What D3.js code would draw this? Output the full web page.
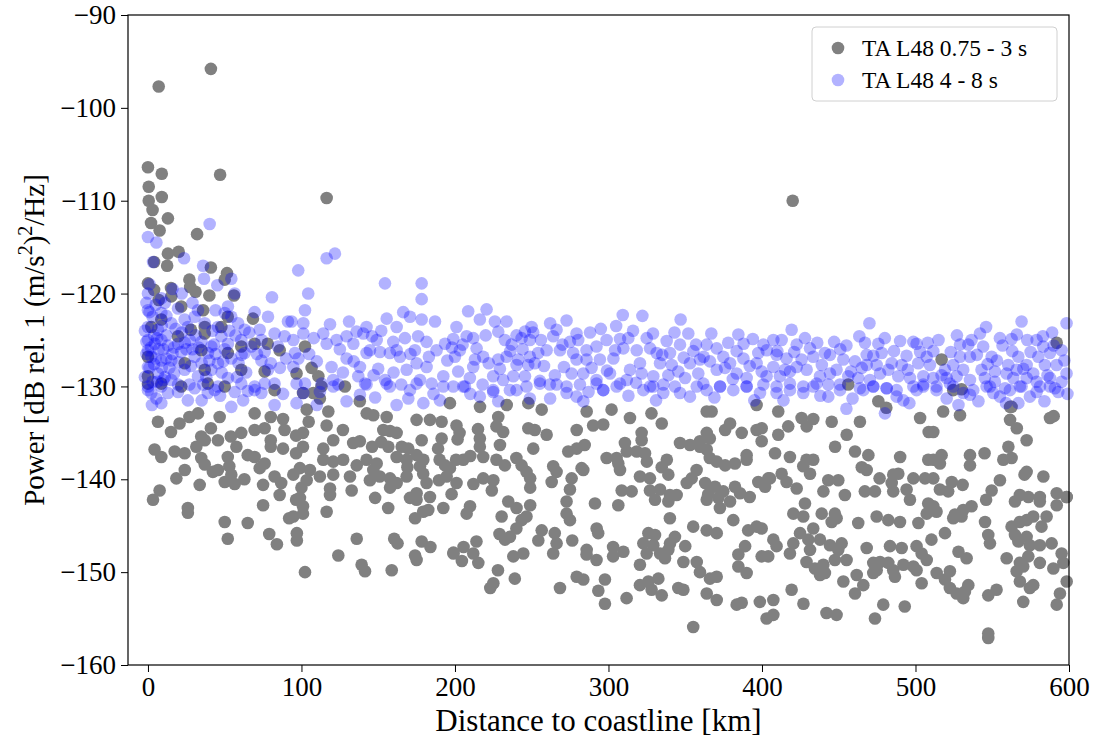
<!DOCTYPE html>
<html>
<head>
<meta charset="utf-8">
<script src="https://cdn.jsdelivr.net/npm/d3@7"></script>
<style>
  body { margin: 0; background: #fff; }
  svg { display: block; font-family: "Liberation Serif", "DejaVu Serif", serif; }
  .axis path, .axis line { stroke: #000; stroke-width: 1; }
  .axis text { font-family: "Liberation Serif", "DejaVu Serif", serif; font-size: 27px; fill: #000; }
</style>
</head>
<body>
<svg id="chart"></svg>
<script>
// Short period noise, TA L48 0.75 - 3 s  [distance km, power dB]
const shortPeriod = [
  [41,-95.8],[7,-97.7],[0,-106.4],[9,-107.1],[47,-107.2],[0.5,-108.5],[9,-109.6],[0.5,-110],[3,-111],[13,-111.9],
  [2,-112.4],[7.6,-113.2],[32,-113.6],[13,-115.7],[20,-115.5],[4,-116.6],[12.5,-117],[41,-117.2],[51.5,-117.8],[50,-118.5],
  [27,-118.5],[0,-118.9],[27.5,-119.3],[31,-119.8],[15,-119.4],[4,-119.6],[56,-120.2],[40,-120.2],[7,-120.7],[116.4,-109.7],[420,-110],
  [15.2,-120.3],[21.7,-121.4],[35.9,-121.8],[52,-122.5],[68.4,-122.7],[47.8,-123.6],[37,-123.6],[8.7,-122.8],[2.2,-123.6],[19.6,-124.6],
  [28,-123.9],[37,-124.3],[0,-126.8],[24,-127.5],[34.8,-126.1],[52,-126.4],[60.8,-125.7],[69.5,-125.4],[78,-125.4],[85.8,-126.1],
  [37,-128.2],[60.8,-128.2],[76,-128.4],[0,-128.9],[0,-129.7],[8.7,-129.7],[21.7,-130],[39,-129.7],[50,-130],[82.5,-130.4],
  [102.3,-125.7],[96.8,-128.6],[106.6,-128],[111,-128.9],[113,-130],
  // 0 - 95 km, below the blue band
  [6.5,-133.8],[20.6,-134],[15,-134.9],[27,-133.3],[32.6,-132.9],[46.7,-133.3],[41,-134.5],[34.7,-135.4],[37,-135.8],[45.6,-135.8],
  [54,-135.4],[60.8,-135],[69.5,-134.7],[76,-134.5],[80,-133.3],[88,-133.5],[69.5,-132.9],[4.3,-136.8],[8.7,-137.6],[17.4,-137],
  [23.9,-137.2],[31.5,-136.5],[34.7,-137.7],[37,-138.4],[42.3,-139.2],[45.6,-139],[52,-137.6],[53,-138.6],[54.3,-139.5],[57.6,-136.5],
  [50,-140.3],[56.5,-140.5],[62.8,-140],[65,-137.4],[69.5,-137.6],[72.8,-138.8],[76,-138.3],[82.5,-139.7],[86.8,-140.4],[85.8,-141.7],
  [75,-140.6],[80,-135.8],[80,-136.5],[88,-136.7],[18.5,-139.9],[24,-139],[33.7,-140.6],[7.6,-141.2],[3.3,-142.2],[26,-143.1],
  [26,-143.6],[50,-144.6],[52,-146.4],[65,-144.7],[75,-142.8],[79,-145.9],[84,-147],[92,-144.2],[89,-134.7],
  // 95 - 200 km
  [128.3,-130],[101,-130.7],[107.7,-130.7],[112,-131.3],[138,-131.6],[117.5,-132.7],[103.4,-132.5],[104.7,-133.8],[116.4,-134.2],[142.5,-132.9],
  [146.8,-133.1],[155.5,-133.3],[175,-133.6],[183.7,-133.6],[191.3,-133.8],[101,-135],[96.5,-135.3],[127,-134.7],[120.7,-135.8],[114.2,-136.7],
  [133.7,-136.1],[138,-135.9],[146,-136.5],[153.3,-134.7],[157.7,-134.8],[162,-135],[152,-136],[156.6,-136.5],[165.3,-136.5],[169.6,-136.7],
  [178.3,-135.8],[191.3,-135.6],[189,-136.7],[96.5,-137.2],[101,-136.5],[114.2,-137.9],[120.7,-138.1],[127.2,-137.9],[136,-138.5],[142.4,-137.9],
  [149,-138.3],[146.8,-139],[162,-137.6],[168.5,-137.9],[175,-137.4],[179.4,-137.9],[169,-138.7],[177.2,-138.6],[190,-137.9],[193.5,-138.5],
  [99,-138.8],[105.5,-139],[94.7,-139.5],[112,-139.7],[120.7,-139.5],[131.6,-139.7],[144.6,-140.1],[151,-139.7],[157.7,-139.9],[162,-140.4],
  [157.7,-140.9],[168.5,-139.7],[179.3,-139.4],[181.5,-140.4],[189.6,-140.1],[194.6,-139.7],[100,-140.9],[103.4,-140.1],[118.6,-141],[132.7,-141.2],
  [118.6,-141.7],[96.5,-142.2],[99,-142],[101,-142.9],[94.7,-144],[101,-143.7],[116.4,-143.5],[148,-142],[156.5,-143.1],[175,-142.2],
  [170.7,-142],[175,-141.5],[183.7,-141.9],[179.3,-143.5],[182.6,-143.3],[192.4,-143.1],[174,-144.2],[97,-145.8],[97,-146.6],[136,-146.4],
  [160.4,-146.4],[162.6,-146.9],[178.3,-146.7],[184,-147.3],[174,-148.2],[175,-148.7],[124,-148.2],[139.2,-149.2],[141.4,-149.9],[158.8,-149.8],
  [102.3,-150],[199,-148],
  // 200 - 300 km
  [196.7,-131.8],[216.3,-132.2],[233.7,-132],[247.8,-131.8],[256.5,-132.5],[285.8,-132.7],[228.2,-133.3],[227,-134.3],[231.4,-134.9],[201,-134.2],
  [203,-135],[215,-134.6],[216.2,-135.6],[201.7,-135.7],[216.2,-136.5],[247.8,-134.5],[252,-134.7],[259.7,-135.2],[279.3,-134.7],[290,-134.2],
  [296.6,-134.1],[284.5,-136.3],[279.3,-136.7],[273.8,-137],[251,-136.7],[229.3,-136.3],[210,-137.5],[218.4,-137.6],[200.7,-137.9],[205.4,-137.9],
  [227,-137.9],[232.5,-138.5],[240,-137.7],[243.4,-138.5],[246.6,-139.2],[249,-139.9],[249,-140.9],[264,-138.6],[266.2,-139.2],[263,-140.3],
  [276,-139.9],[274.9,-141.1],[272.7,-142.4],[282.5,-138.8],[283.6,-139],[298.8,-137.7],[196.7,-138.8],[201,-140.4],[212,-140.5],[197.8,-141.6],
  [218.4,-139.9],[225,-140.1],[224,-141.2],[234.7,-142.4],[240.1,-143.1],[249,-142.8],[246.6,-144],[243.4,-144.4],[240,-145.3],[229,-145.9],
  [235.8,-146.2],[232.6,-146.5],[230.4,-144],[209.8,-142.9],[207.6,-143.7],[256.5,-145.5],[254.3,-146.6],[265,-145.8],[266.2,-146.9],[276.4,-146.6],
  [264,-148],[272.7,-143.7],[274.9,-144.4],[291.2,-142.6],[292.3,-145.3],[293.3,-145.8],[285.8,-147.6],[285.7,-148.1],[292.2,-148.7],[303,-147.3],
  [214,-146.7],[205.6,-147.3],[199,-147.9],[211.9,-148],[204.5,-148.8],[215.2,-149],[238,-148.3],[244.5,-148],[228,-149.8],[225,-151.2],
  [223,-151.7],[239,-150.7],[268.4,-151.7],[279.3,-150.5],[283.6,-150.8],[293.4,-152],[297.7,-150.8],[297.7,-153.4],
  // 300 - 405 km
  [302,-132.5],[314,-133.4],[328,-132.9],[334.7,-134],[364,-132.7],[367.2,-132.7],[364,-135],[376,-134.7],[379.2,-134],[386.8,-135],
  [396.5,-132],[396.5,-134.7],[399.8,-134.5],[399.8,-135.9],[321.6,-135],[321.6,-135.8],[310.7,-136.1],[311.9,-137],[318.4,-137],[323.8,-137.2],
  [305.3,-137.7],[306.4,-138.3],[307.5,-139],[325,-138.1],[338,-137.9],[334.7,-138.7],[339,-139.5],[346.6,-136.1],[353.1,-136.3],[359.6,-135.9],
  [359.6,-136.5],[366,-135.6],[364,-136.8],[366,-137.7],[370.5,-138.1],[376,-138.5],[382.4,-138.3],[390,-137.4],[390,-137.9],[357.4,-139],
  [354.2,-139.9],[351,-140.4],[320.5,-139.7],[327,-139.9],[308.6,-141.2],[315.1,-141.3],[327,-141.2],[333.6,-141.1],[330.3,-142.2],[340,-141.7],
  [344.4,-141.7],[339,-142.4],[363,-140.4],[365,-141.6],[369.4,-140.8],[374.8,-141.3],[371.6,-142],[364,-142.2],[372.6,-143.1],[379.2,-142.4],
  [382.4,-140.8],[385.7,-141.5],[392,-141.9],[397.6,-140.3],[402,-140.8],[404.1,-139.9],[306.4,-142.8],[340,-144.2],[355.2,-145.1],[364,-145.5],
  [370.5,-145.8],[381.3,-144.4],[391,-145.5],[396.5,-145.1],[399.8,-145.3],[326,-145.8],[330.3,-146],[322.7,-146.9],[329.2,-147.1],[324.9,-148],
  [343.3,-146.2],[340.1,-146.9],[339,-147.6],[333.6,-148],[336.8,-148.5],[350,-147.2],[303,-148.3],[309.7,-147.8],[348.8,-148.9],[357.5,-148.9],
  [359.6,-150],[366.1,-150.7],[370.5,-150.5],[389,-147.2],[384.6,-148.1],[384.6,-149.4],[390,-150.1],[399.8,-148.3],[404.1,-148.3],[320.5,-149.2],
  [332.5,-150.7],[320.5,-151.4],[326,-151],[328.1,-151.9],[334.7,-152.5],[311.8,-152.8],[345.5,-151.7],[348.8,-151.9],[364,-152.3],[370.5,-153],
  [383.5,-153.5],[386.8,-153.3],[398.6,-153.2],[403,-155],[355.2,-155.9],
  // 405 - 510 km
  [410.6,-132.7],[425.8,-133.4],[433.4,-133.5],[429.1,-134.3],[445.4,-133.8],[463.8,-133.8],[475.8,-131.6],[481,-132.3],[503,-133.4],[508.6,-134.9],
  [410.6,-135.2],[417.1,-134.3],[455.2,-135.2],[447.6,-136.5],[408.5,-137.2],[418.2,-137.6],[429,-137.9],[433.4,-137.9],[426.9,-138.6],[431.3,-139.4],
  [460.6,-137],[469.3,-137.4],[465,-138.7],[468.2,-139],[490,-137.6],[508.3,-137.9],[405.2,-139.9],[412.8,-139.4],[416,-140.3],[422.6,-141],
  [443.2,-140.1],[449.7,-140.1],[440,-141.3],[454,-141.7],[467,-141.3],[473.6,-141.3],[476.6,-139.9],[485.5,-139.5],[488.8,-139.4],[484.5,-140.4],
  [485.5,-141.3],[494.2,-141.1],[496.4,-142.2],[498.6,-139.9],[506.2,-139.9],[508.3,-142.6],[428,-142.6],[420.4,-143.7],[426.9,-144],[438.9,-143.7],
  [447.5,-143.7],[448.6,-144.2],[445.4,-144.6],[462.7,-144.7],[474.7,-144],[482.3,-144.4],[489.9,-144.6],[501.9,-144.7],[507.3,-143.7],[407.4,-146.5],
  [409.5,-147.2],[420.4,-146.9],[424.8,-145.8],[418.2,-148],[430.2,-146.5],[433.4,-145.3],[437.8,-146.5],[431.3,-147.6],[429,-148.9],[434.5,-149.6],
  [440,-149.2],[441,-150.1],[437.8,-150.3],[444.3,-147.1],[449.7,-147.6],[451.9,-146.9],[455.1,-148.7],[447.5,-148.7],[468.2,-147.4],[483.4,-147.2],
  [491,-147.4],[500.7,-147.2],[504,-148],[472.5,-149],[474.7,-149.8],[476.9,-148.9],[472.5,-150.1],[482.3,-149],[485.5,-149.8],[486.6,-150.5],
  [492.1,-149.2],[498.6,-149.4],[500.7,-149.8],[504,-151.2],[507.3,-148.7],[461.7,-150.3],[466,-151.4],[460.6,-152.3],[453,-151],[419.3,-151.9],
  [427,-153.4],[442,-154.4],[448.6,-154.6],[479,-153.5],[493,-153.7],[473.6,-155],[407.4,-153],[407.4,-154.6],[456.2,-129.8],
  // 510 - 600 km
  [518,-132.7],[529,-133.1],[561.6,-132.2],[561.6,-133.6],[566,-134.5],[572.4,-135.8],[587.6,-133.4],[590,-133.2],[511.6,-134.9],[517,-137.4],
  [511.6,-137.9],[515.9,-138.3],[535.5,-137.4],[535.5,-138.5],[545,-137.2],[560.5,-136.5],[557.2,-137.9],[562.6,-137.7],[555,-140.1],[571,-139.5],
  [572.4,-139.2],[583.3,-139.7],[511.6,-139.9],[523.6,-140.3],[515.9,-141.1],[521.3,-141.3],[530.7,-140.6],[549.6,-141.2],[546,-142.2],[536.5,-142.9],
  [531.1,-143.3],[525.7,-143.8],[524.6,-144.2],[530,-144],[511.6,-142.9],[513.7,-143.5],[545.3,-144.6],[564.8,-142.4],[568,-141.7],[573.5,-141.9],
  [581,-141.9],[581,-142.4],[592,-141.5],[592,-142.8],[598.4,-141.9],[585.4,-144],[576.7,-144],[572.4,-144.4],[568,-144.6],[562.6,-145.1],
  [582.1,-145.1],[564.8,-146],[567,-146.7],[572.4,-146.2],[574.5,-147.1],[581,-147.1],[588.7,-146.9],[595.2,-148],[596.3,-149],[589.8,-149.6],
  [581,-149],[573.5,-148.3],[568,-149],[565.9,-149.9],[570.2,-149.4],[568,-151],[574.5,-151.7],[576.7,-151.4],[570.2,-153.2],[594.1,-152.3],
  [592,-153.5],[547.4,-146],[548.5,-146.9],[559.4,-148.5],[519.2,-145.8],[510.4,-146.5],[528,-147.8],[533.3,-148.5],[513.8,-150.1],[522.4,-149.9],
  [519.2,-150.8],[522.4,-151.7],[526.8,-152.3],[531.1,-152.8],[534.4,-151.4],[532.2,-152.1],[547.4,-152.5],[552.8,-151.9],[547.4,-156.6],[547.4,-157.1],
  [598.5,-151],[598.5,-141.9],[517,-127.1],[592,-125.3],[530,-130.3],[524.6,-130.4],[562.6,-132.2]
];

// Long period noise, TA L48 4 - 8 s  [distance km, power dB]
const longPeriod = [
  // 0 - 95 km
  [0,-113.9],[5.5,-114.5],[40.2,-112.5],[23.5,-116.2],[3.3,-116.6],[35.9,-117],[36.5,-118.4],[54.3,-118.4],[45.2,-119.1],[80.8,-120.4],
  [0,-120],[8.7,-120.5],[56.5,-120],[0,-121.8],[8.7,-122.1],[19.6,-121.6],[30.4,-122.5],[32.6,-121.8],[52.1,-121.4],[54.3,-122.5],
  [69.5,-122],[78.2,-122.5],[91.2,-123],[0,-123.6],[6.5,-123.9],[15.2,-123.2],[23.9,-122.8],[37,-123.2],[45.6,-123.6],[50,-122.1],
  [58.7,-123.2],[63,-123.9],[72.8,-123.9],[82.5,-124.3],[89,-124.6],[0,-125],[4.4,-125.4],[8.7,-125],[19.6,-125.4],[27.2,-125],
  [34.8,-125.2],[41.3,-125.7],[47.8,-124.6],[52.1,-125.4],[60.8,-125],[67.3,-125.7],[76,-126.3],[84.7,-125.7],[0,-126.1],[2.2,-126.8],
  [8.7,-127.2],[15.2,-127.2],[21.7,-126.3],[30.4,-126.8],[39.1,-126.4],[45.6,-127.5],[54.3,-127],[63,-126.4],[73.9,-127.2],[78.2,-128.2],
  [0,-127.9],[6.5,-128.6],[15.2,-129.3],[23.9,-128.2],[32.6,-128.9],[41.3,-128.2],[52.1,-129.1],[60.8,-129.7],[69.5,-130],[82.5,-129.7],
  [0,-130.4],[8.7,-130],[19.6,-130.6],[30.4,-130.2],[43.5,-130.4],[56.5,-130.6],[73.9,-130.7],[2.2,-130.7],[5.5,-131.3],[13,-130.7],
  [19.6,-129.8],[26,-131.5],[39,-130.7],[54.3,-132.2],[62,-131.5],[82.5,-132],[8.7,-131.8],[0,-130],[45.6,-130],[69.5,-130.4],
  [76,-129.7],[2.6,-132],[-2,-124],[-1,-126.5],[1,-128],[3,-122.5],[5,-127],[10,-126],[12,-124.5],[14,-128],
  [17,-125.8],[11,-121],[-2,-129],[6,-129.5],
  [1,-122],[4,-124.5],[7,-126],[9,-128],[12,-127],[16,-126.5],[18,-123.8],[22,-124.2],[25,-126],[28,-127.8],
  [31,-124.5],[35,-127.5],[38,-129],[42,-124],[44,-126.5],[48,-128.5],[50,-126],[57,-124.5],[59,-127.5],[64,-128.5],
  [66,-124.2],[71,-126.5],[74,-125],[80,-127.5],[86,-128],[88,-130.8],[90,-127],[3,-129.5],[11,-129],[27,-129.8],
  [47,-131],[35,-131.5],[65,-130.5],[-1,-121],[16,-119.5],[22,-120],
  [-1,-125.2],[2,-125.8],[4,-127.6],[6,-124.8],[9,-123.5],[10,-129.3],[13,-125.6],[17,-128.6],[20,-127.4],[24,-125.3],
  [26,-123.6],[29,-126],[33,-125.8],[36,-129.8],[40,-127.2],[43,-125.5],[49,-127.3],[53,-124],[58,-129],[61,-126.6],
  [1,-119],[5,-121.2],[12,-122.4],[29,-121],[44,-121.8],
  // 95 - 200 km
  [116.4,-116.2],[121.8,-115.7],[97.9,-117.5],[104.4,-120],[154.4,-118.9],[178.3,-118.9],[178.3,-120.6],[102.3,-121.8],[155.5,-122.7],[187,-123],
  [166.3,-122],[178.3,-122.8],[118.6,-123.3],[93.6,-123],[101.2,-123.2],[142.4,-123.6],[135.9,-124.1],[162,-123.6],[170.7,-122.5],[101.2,-124.3],
  [114.2,-124.3],[116.4,-125.4],[122.9,-125],[129.4,-124.6],[133.8,-125.4],[140.3,-124.3],[149,-125],[159.8,-125.2],[167.4,-124.8],[173.9,-126.1],
  [181.5,-125.2],[188,-126.1],[193.5,-125.4],[94.7,-125],[95.8,-126.4],[162,-126.1],[151.1,-126.3],[157.6,-126.4],[144.6,-126.1],[129.4,-127],
  [138.1,-127.9],[142.4,-126.4],[119.6,-127.9],[150,-128.1],[168.5,-128.2],[175,-127.5],[181.5,-127.9],[192.4,-128.9],[184.8,-129.7],[177.2,-129.3],
  [164.2,-126.8],[102.3,-129.7],[113.1,-129.7],[120.7,-129.3],[141.4,-129.7],[137,-128.9],[154.4,-129.3],[157.6,-130],[170.7,-130.4],[192.4,-130],
  [94.7,-127.9],[96.8,-129.7],[96.8,-131.8],[101.2,-130.7],[112,-130.6],[120.7,-130],[129.4,-131.6],[138.1,-130.9],[142.4,-129.8],[155.5,-129.7],
  [162,-132],[169.6,-131.3],[175,-129.7],[179.4,-131.8],[190.2,-131.5],
  [98,-127],[105,-126.5],[108,-124.8],[110,-127.3],[125,-126],[127,-128.5],[131,-123],[134,-127.3],[146,-124.6],[147,-128.8],
  [152,-124],[160,-128.5],[165,-129.8],[171,-126.5],[176,-124.6],[183,-126.8],[186,-130.8],[195,-127.2],[198,-125.8],[110,-132],
  [148,-131.2],[124,-129.8],
  // 200 - 300 km
  [208.6,-121.9],[220.6,-121.7],[216.2,-122.8],[201,-123.6],[233.6,-123],[249.9,-123.6],[266.2,-123.9],[272.7,-122.9],[279.2,-124.3],[228.2,-124.1],
  [240.1,-124.5],[245.6,-124.1],[232.5,-125],[198.9,-124.9],[207.6,-124.6],[211.9,-124.8],[236.9,-125.5],[243.4,-124.8],[248.8,-125],[264,-124.6],
  [274.9,-125.2],[280.3,-125],[285.7,-126.1],[292.2,-125.7],[298.8,-125],[203.2,-126.1],[214.1,-125.9],[213,-127.1],[218.4,-126.8],[228.2,-127.1],
  [233.6,-126.8],[241.2,-127.1],[248.8,-126.8],[254.2,-126.4],[259.7,-126.1],[268.4,-126.1],[279.2,-127.1],[285.7,-127.1],[294.4,-127.1],[200,-126.8],
  [202.1,-128.4],[211.9,-127.9],[229.3,-128.1],[240.1,-127.7],[247.7,-127.7],[252,-127.5],[245.6,-128.9],[224.9,-128.9],[231.4,-129.3],[265.1,-128.8],
  [276,-128.6],[283.6,-128.6],[292.2,-129.3],[255.3,-129.4],[209.7,-129.1],[206.5,-130],[224.9,-130.4],[240.1,-130.4],[272.7,-130],[281.4,-129.8],
  [296.6,-130.4],[261.8,-129.8],[198.9,-130],[205.4,-130],[216.2,-131.1],[224.9,-130.6],[228.2,-131.6],[235.8,-130.4],[246.6,-130],[248.8,-131.3],
  [255.3,-129.7],[266.2,-129.8],[272.7,-130.7],[279.2,-131.1],[283.6,-131.6],[292.2,-129.7],[296.6,-130.4],
  [205,-125.5],[210,-130.8],[220,-124.5],[222,-127.5],[236,-126.2],[238,-128.9],[244,-126],[251,-124.2],[256,-125],[258,-127.8],
  [262,-123.2],[270,-125.5],[271,-127.9],[277,-126.4],[288,-124.2],[289,-128],[295,-123.8],[299,-128.3],[218,-129.8],[262,-131.3],
  [287,-130.6],[226,-123],
  // 300 - 405 km
  [309.3,-122.3],[322.1,-122.4],[384.6,-124.4],[400.9,-125.5],[307.5,-124.9],[312.9,-124.8],[324.9,-124.8],[337.9,-125.1],[346.6,-125.5],[364,-125.5],
  [370.5,-125.9],[355.3,-126.2],[304.3,-126.1],[309.7,-125.9],[318.4,-126.1],[327.1,-125.9],[331.4,-126.4],[340.1,-126.4],[383.5,-126.2],[397.6,-126.4],
  [403.1,-126.1],[303.2,-127],[314,-128.2],[320.5,-127.5],[333.6,-127.5],[341.2,-127.7],[353.1,-127.5],[359.6,-127.1],[366.1,-127.3],[374.8,-126.8],
  [379.2,-127.5],[387.9,-127],[396.5,-127.5],[301,-128.6],[311.9,-129.3],[321.6,-128.6],[329.2,-128.9],[339,-128.8],[345.5,-128.4],[349.9,-129.1],
  [358.5,-128.6],[370.5,-128.2],[375.9,-128],[383.5,-128.6],[390,-129.1],[399.8,-128.4],[305.3,-130],[327.1,-130],[335.7,-129.8],[343.3,-130],
  [361.8,-129.7],[372.7,-130],[390,-130],[400.9,-129.8],[307.5,-129.7],[322.7,-130.4],[329.2,-130],[335.7,-130.7],[346.6,-130.7],[353.1,-131.1],
  [357.5,-130],[364,-130.4],[372.7,-130],[381.3,-130.4],[390,-130],[398.7,-130.7],
  [305,-123.5],[316,-124],[318,-129.6],[329,-124.3],[335,-126.6],[343,-124.2],[349,-126.9],[352,-124.3],[357,-125.5],[362,-126.8],
  [367,-124.3],[378,-125.3],[381,-129.2],[388,-125.4],[392,-127.8],[394,-124.9],[403,-128.9],[313,-131],[331,-131.5],[369,-131.2],
  [395,-131.5],[347,-122.8],
  // 405 - 510 km
  [419.3,-123.9],[412.8,-125],[463.4,-124.6],[467.1,-125.3],[475.8,-125.4],[498.6,-125.2],[500.7,-125.4],[407.4,-125],[422.6,-125.5],[409.5,-126.6],
  [416,-127],[425.8,-127.1],[431.3,-125.9],[433.4,-126.8],[441,-126.4],[444.3,-126.6],[453,-127.1],[460.6,-127.3],[468.2,-126.6],[472.5,-126.7],
  [468.2,-127.7],[474.7,-127.7],[484.5,-127.5],[491,-127.7],[494.2,-126.7],[501.8,-127.5],[507.3,-126.8],[407.4,-127.9],[411.7,-128.9],[418.2,-128.4],
  [422.6,-127.9],[429.1,-128.2],[437.8,-128.9],[444.3,-128.6],[448.6,-128.2],[456.2,-128.9],[462.7,-129.1],[470.3,-129.3],[476.9,-128.6],[482.3,-128.2],
  [488.8,-128.9],[496.4,-129.1],[505.1,-128.9],[409.5,-130],[418.2,-129.7],[426.9,-130],[435.6,-129.7],[443.2,-129.8],[450.8,-129.8],[463.8,-130.2],
  [472.5,-130],[481.2,-130.2],[487.7,-130.4],[498.6,-130],[505.1,-129.8],[409.5,-130.7],[418.2,-130.4],[426.9,-130.7],[433.4,-130],[443.2,-131.1],
  [450.8,-130.4],[466,-130.4],[472.5,-130],[481.2,-130.2],[480.1,-132.9],[487.7,-131.1],[492.1,-131.5],[500.7,-130.4],[505.1,-130],
  [410,-126.2],[415,-128.2],[421,-126.3],[428,-124.8],[436,-125.3],[439,-127.7],[447,-125.2],[451,-126],[455,-125.6],[458,-128.4],
  [465,-128],[478,-126.4],[480,-124.8],[486,-126.2],[490,-125.1],[495,-128.2],[503,-126.3],[508,-125.3],[414,-131.5],[438,-131],
  [459,-131.3],[496,-131.8],[470,-123.2],[455,-132.4],
  // 510 - 600 km
  [569.1,-123],[598.4,-123.2],[529,-125.5],[536.5,-125],[534.4,-125.5],[544.1,-125.7],[556.7,-125.6],[562.6,-124.9],[572.8,-125],[578.9,-125],
  [583.2,-125.7],[511.6,-126.2],[529,-126.8],[535.5,-126.8],[549.6,-126.8],[560.4,-127.7],[567,-126.8],[572.4,-127.7],[580,-126.8],[587.6,-126.4],
  [595.2,-126.1],[509.4,-127.7],[519.2,-128.2],[524.6,-127.7],[531.1,-128.2],[543,-128.2],[551.7,-128.4],[559.3,-128.6],[565.9,-128.2],[570.2,-128.1],
  [576.7,-128.6],[584.3,-127.7],[591.9,-127.7],[598.4,-128.6],[511.6,-129.1],[520.3,-129.1],[526.8,-128.9],[535.5,-129.3],[545.2,-129.1],[551.7,-129.5],
  [563.7,-129.1],[572.4,-129.1],[578.9,-129.5],[587.6,-129.1],[595.2,-129.5],[513.7,-130],[524.6,-130],[537.6,-130.4],[548.5,-130],[558.3,-130.2],
  [569.1,-130],[581.1,-130],[590.8,-130.2],[513.7,-130.4],[522.4,-129.7],[531.1,-130.7],[535.5,-130.9],[520.3,-131.3],[546.3,-130],[550.7,-130.7],
  [555,-131.1],[561.5,-130.4],[568,-130],[574.5,-131.1],[578.9,-130.6],[587.6,-130],[593,-130.6],[567,-131.8],
  [515,-125],[517,-128.8],[523,-126.3],[527,-124.5],[540,-126.6],[542,-124.3],[547,-127.6],[553,-127.2],[555,-124.8],[563,-126.2],
  [566,-124.4],[575,-126.3],[583,-124.6],[586,-128.8],[590,-125.6],[597,-127.2],[599,-130.8],[528,-132],[541,-131.6],[559,-131.8],
  [584,-131.6],[546,-123.6],[589,-124.2]
];

const xTicks = [0, 100, 200, 300, 400, 500, 600];
const yTicks = [-160, -150, -140, -130, -120, -110, -100, -90];
const seriesNames = ["TA L48 0.75 - 3 s", "TA L48 4 - 8 s"];
const seriesColors = ["#808080", "rgba(0,0,255,0.3)"];

// Plot box
const width = 1101, height = 742;
const margin = { top: 15, right: 32, bottom: 77, left: 128 };
const plotW = width - margin.left - margin.right;
const plotH = height - margin.top - margin.bottom;

const svg = d3.select("#chart").attr("width", width).attr("height", height);
const g = svg.append("g").attr("transform", `translate(${margin.left},${margin.top})`);

const xScale = d3.scaleLinear().domain([-13, 600]).range([0, plotW]);
const yScale = d3.scaleLinear().domain([-160, -90]).range([plotH, 0]);

// Points: gray first, translucent blue on top
const r = 6.3;
g.append("g")
  .selectAll("circle")
  .data(shortPeriod)
  .join("circle")
  .attr("cx", (d) => xScale(d[0]))
  .attr("cy", (d) => yScale(d[1]))
  .attr("r", r)
  .attr("fill", seriesColors[0]);

g.append("g")
  .selectAll("circle")
  .data(longPeriod)
  .join("circle")
  .attr("cx", (d) => xScale(d[0]))
  .attr("cy", (d) => yScale(d[1]))
  .attr("r", r)
  .attr("fill", seriesColors[1]);

// Axes
g.append("g")
  .attr("class", "axis")
  .attr("transform", `translate(0,${plotH})`)
  .call(d3.axisBottom(xScale).tickValues(xTicks).tickSize(7).tickPadding(5).tickFormat(d3.format("d")))
  .call((a) => a.select(".domain").remove());

g.append("g")
  .attr("class", "axis")
  .call(d3.axisLeft(yScale).tickValues(yTicks).tickSize(7).tickPadding(5).tickFormat(d3.format("d")))
  .call((a) => a.select(".domain").remove());

// Frame
g.append("rect")
  .attr("width", plotW)
  .attr("height", plotH)
  .attr("fill", "none")
  .attr("stroke", "#000")
  .attr("stroke-width", 1.2);

// Axis labels
svg.append("text")
  .attr("x", margin.left + plotW / 2)
  .attr("y", 731)
  .attr("text-anchor", "middle")
  .attr("font-size", 31)
  .text("Distance to coastline [km]");

const yLabel = svg.append("text")
  .attr("transform", `translate(44,${margin.top + plotH / 2}) rotate(-90)`)
  .attr("text-anchor", "middle")
  .attr("font-size", 29);
yLabel.append("tspan").text("Power [dB rel. 1 (m/s");
yLabel.append("tspan").attr("font-size", 20).attr("dy", -12).text("2");
yLabel.append("tspan").attr("dy", 12).text(")");
yLabel.append("tspan").attr("font-size", 20).attr("dy", -12).text("2");
yLabel.append("tspan").attr("dy", 12).text("/Hz]");

// Legend
const legend = svg.append("g").attr("transform", "translate(812,27)");
legend.append("rect")
  .attr("width", 245)
  .attr("height", 74)
  .attr("rx", 4)
  .attr("fill", "#fff")
  .attr("fill-opacity", 0.8)
  .attr("stroke", "#d0d0d0");

seriesNames.forEach((name, i) => {
  const row = legend.append("g").attr("transform", `translate(0,${21 + i * 32})`);
  row.append("circle").attr("cx", 26).attr("cy", 0).attr("r", r).attr("fill", seriesColors[i]);
  row.append("text")
    .attr("x", 50)
    .attr("y", 0)
    .attr("dy", "0.35em")
    .attr("font-size", 23.5)
    .text(name);
});
</script>
</body>
</html>
